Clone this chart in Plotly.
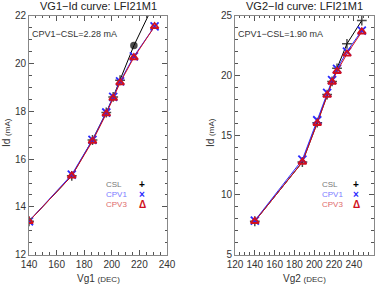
import plotly.graph_objects as go

# ---- data ----
vg1 = [140, 171, 186, 196, 201, 206, 216, 231]
id1_csl = [13.4, 15.3, 16.8, 17.95, 18.6, 19.3, 20.75, 22.55]
id1_cpv1 = [13.4, 15.35, 16.8, 17.95, 18.6, 19.25, 20.3, 21.55]
id1_cpv3 = [13.4, 15.3, 16.75, 17.9, 18.55, 19.2, 20.25, 21.55]

vg2 = [140, 188, 203, 213, 218, 223, 233, 248]
id2_csl = [7.8, 12.75, 16.05, 18.4, 19.5, 20.6, 22.65, 24.6]
id2_cpv1 = [7.85, 12.95, 16.25, 18.55, 19.6, 20.55, 22.0, 23.75]
id2_cpv3 = [7.8, 12.75, 16.0, 18.35, 19.45, 20.35, 21.8, 23.65]

titles = ["VG1\u2212Id curve: LFI21M1", "VG2\u2212Id curve: LFI21M1"]
notes = ["CPV1\u2212CSL=2.28 mA", "CPV1\u2212CSL=1.90 mA"]
xlabels = ["Vg1", "Vg2"]
series_names = ["CSL", "CPV1", "CPV3"]

W, H = 382, 284
FONT = "Liberation Sans, Arial, sans-serif"

dom_x1 = [29 / W, 167 / W]
dom_x2 = [235 / W, 373.7 / W]
dom_y = [1 - 254.7 / H, 1 - 15.7 / H]

fig = go.Figure()

csl_sym1 = ["cross-thin-open"] * 6 + ["circle", "cross-thin-open"]
csl_size1 = [7] * 6 + [6, 7]

panels = [
    (vg1, id1_csl, id1_cpv1, id1_cpv3, "x", "y", csl_sym1, csl_size1),
    (vg2, id2_csl, id2_cpv1, id2_cpv3, "x2", "y2", ["cross-thin-open"] * 8, [7] * 8),
]

for xs, csl, cpv1, cpv3, xa, ya, sym, sz in panels:
    fig.add_trace(go.Scatter(
        x=xs, y=csl, xaxis=xa, yaxis=ya, mode="lines+markers",
        line=dict(color="black", width=1),
        marker=dict(symbol=sym, size=sz, color="black",
                    line=dict(color="black", width=1.5)),
        showlegend=False, cliponaxis=True))
    fig.add_trace(go.Scatter(
        x=xs, y=cpv1, xaxis=xa, yaxis=ya, mode="lines+markers",
        line=dict(color="#2a2aff", width=1),
        marker=dict(symbol="x-thin-open", size=8,
                    line=dict(color="#2a2aff", width=1.8)),
        showlegend=False))
    fig.add_trace(go.Scatter(
        x=xs, y=cpv3, xaxis=xa, yaxis=ya, mode="lines+markers",
        line=dict(color="#d01020", width=1),
        marker=dict(symbol="triangle-up-open", size=7,
                    line=dict(color="#d01020", width=1.8)),
        showlegend=False))

axis_common = dict(
    showgrid=False, zeroline=False, showline=True, linecolor="#888888",
    linewidth=1, mirror="ticks", ticks="inside", ticklen=5, tickwidth=1,
    tickcolor="#555555", automargin=False,
    tickfont=dict(family=FONT, size=10, color="#333333"),
)
minor_x = dict(dtick=5, ticks="inside", ticklen=2.5, tickcolor="#555555", showgrid=False)

fig.update_layout(
    width=W, height=H, margin=dict(l=0, r=0, t=0, b=0),
    paper_bgcolor="white", plot_bgcolor="white",
    font=dict(family=FONT),
    xaxis=dict(domain=dom_x1, range=[140, 240], dtick=20, tick0=140,
               minor=minor_x, anchor="y", **axis_common),
    yaxis=dict(domain=dom_y, range=[12, 22], dtick=2,
               minor=dict(dtick=0.5, ticks="inside", ticklen=2.5, tickcolor="#555555", showgrid=False),
               anchor="x", **axis_common),
    xaxis2=dict(domain=dom_x2, range=[120, 260], dtick=20, tick0=120,
                minor=minor_x, anchor="y2", **axis_common),
    yaxis2=dict(domain=dom_y, range=[5, 25], dtick=5,
                minor=dict(dtick=1, ticks="inside", ticklen=2.5, tickcolor="#555555", showgrid=False),
                anchor="x2", **axis_common),
)

ann = []
centers = [(dom_x1[0] + dom_x1[1]) / 2, (dom_x2[0] + dom_x2[1]) / 2]
lefts = [dom_x1[0], dom_x2[0]]
leg_text_x = [104 / W, 320 / W]
leg_sym_x = [142 / W, 356 / W]
for i in range(2):
    ann.append(dict(text=titles[i], x=centers[i], y=1 - 6 / H, xref="paper", yref="paper",
                    showarrow=False, font=dict(size=11, color="#222222", family=FONT),
                    xanchor="center", yanchor="middle"))
    ann.append(dict(text=notes[i], x=lefts[i] + 1 / W, y=1 - 34 / H, xref="paper", yref="paper",
                    showarrow=False, font=dict(size=9, color="#333333", family=FONT),
                    xanchor="left", yanchor="middle"))
    ann.append(dict(text=xlabels[i] + " <span style='font-size:8px'>(DEC)</span>",
                    x=centers[i], y=1 - 278 / H, xref="paper", yref="paper",
                    showarrow=False, font=dict(size=10, color="#333333", family=FONT),
                    xanchor="center", yanchor="middle"))
    ann.append(dict(text="Id <span style='font-size:8px'>(mA)</span>", textangle=-90,
                    x=(7 if i == 0 else 211) / W, y=1 - 133 / H, xref="paper", yref="paper",
                    showarrow=False, font=dict(size=10, color="#333333", family=FONT),
                    xanchor="center", yanchor="middle"))
    leg_colors = ["#777777", "#7a7aff", "#e06a6a"]
    sym_colors = ["black", "#2a2aff", "#d01020"]
    syms = ["<b>+</b>", "<b>\u00d7</b>", "<b>\u0394</b>"]
    for k in range(3):
        yy = 1 - (184 + 10 * k) / H
        ann.append(dict(text=series_names[k], x=leg_text_x[i], y=yy, xref="paper", yref="paper",
                        showarrow=False, font=dict(size=8, color=leg_colors[k], family=FONT),
                        xanchor="left", yanchor="middle"))
        ann.append(dict(text=syms[k], x=leg_sym_x[i], y=yy, xref="paper", yref="paper",
                        showarrow=False, font=dict(size=10, color=sym_colors[k], family=FONT),
                        xanchor="center", yanchor="middle"))

fig.update_layout(annotations=ann)
fig.write_html("out.html", config={"displayModeBar": False},
               post_script="document.body.style.margin='0px';document.body.style.overflow='hidden';")
